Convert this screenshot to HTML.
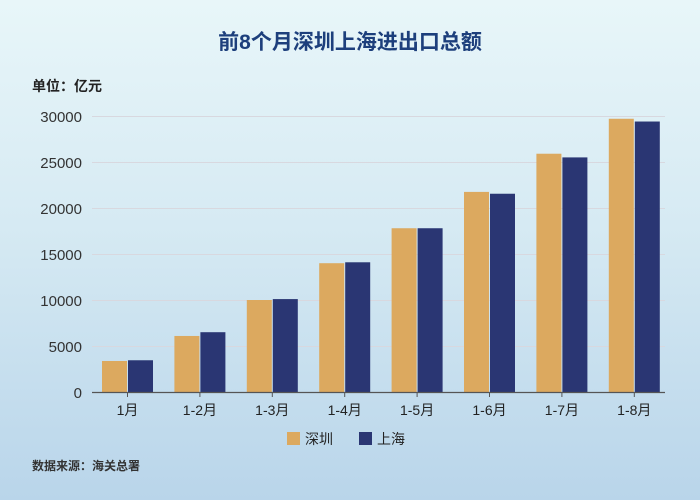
<!DOCTYPE html><html><head><meta charset="utf-8"><style>
body{margin:0}
#c{width:700px;height:500px;position:relative;overflow:hidden;background:linear-gradient(180deg,#e8f6f9 0%,#d6eaf3 45%,#b9d5ea 100%);font-family:"Liberation Sans","Noto Sans CJK SC",sans-serif}
</style></head><body><div id="c">
<svg width="700" height="500" xmlns="http://www.w3.org/2000/svg" style="position:absolute;left:0;top:0">
<text x="350" y="49" text-anchor="middle" font-size="21" font-weight="bold" fill="#1d3f7c" font-family="Liberation Sans,Noto Sans CJK SC,sans-serif">前8个月深圳上海进出口总额</text>
<text x="32" y="91" font-size="14" font-weight="bold" fill="#222" font-family="Liberation Sans,Noto Sans CJK SC,sans-serif">单位：亿元</text>
<g stroke="#d8d8df" stroke-width="1">
<line x1="92" x2="665" y1="116.5" y2="116.5"/><line x1="92" x2="665" y1="162.5" y2="162.5"/><line x1="92" x2="665" y1="208.5" y2="208.5"/><line x1="92" x2="665" y1="254.5" y2="254.5"/><line x1="92" x2="665" y1="300.5" y2="300.5"/><line x1="92" x2="665" y1="346.5" y2="346.5"/>
</g>
<g font-size="15" fill="#333" text-anchor="end" font-family="Liberation Sans,sans-serif">
<text x="82" y="122">30000</text><text x="82" y="168">25000</text><text x="82" y="214">20000</text><text x="82" y="260">15000</text><text x="82" y="306">10000</text><text x="82" y="352">5000</text><text x="82" y="398">0</text>
</g>
<g id="bars"></g>
<line x1="92" x2="665" y1="392.5" y2="392.5" stroke="#555" stroke-width="1.2"/>
<g id="ticks" stroke="#555"></g>
<g id="lab" font-size="14" fill="#222" text-anchor="middle" font-family="Liberation Sans,Noto Sans CJK SC,sans-serif"></g>
<rect x="287" y="432" width="13" height="13" fill="#dca95f"/>
<text x="305" y="444" font-size="14" fill="#222" font-family="Liberation Sans,Noto Sans CJK SC,sans-serif">深圳</text>
<rect x="359" y="432" width="13" height="13" fill="#2a3673"/>
<text x="377" y="444" font-size="14" fill="#222" font-family="Liberation Sans,Noto Sans CJK SC,sans-serif">上海</text>
<text x="32" y="470" font-size="12" font-weight="bold" fill="#333" font-family="Liberation Sans,Noto Sans CJK SC,sans-serif">数据来源：海关总署</text>
</svg>
<script>
var a=[3370,6090,10000,14000,17800,21750,25900,29700],b=[3450,6500,10100,14100,17800,21550,25500,29400],n=["1月","1-2月","1-3月","1-4月","1-5月","1-6月","1-7月","1-8月"];
var s="",t="",l="";
for(var i=0;i<8;i++){var c=127.5+i*72.4;var ha=a[i]*46/5000,hb=b[i]*46/5000;
s+='<rect x="'+(c-25.5)+'" y="'+(392-ha)+'" width="25" height="'+ha+'" fill="#dca95f"/>';
s+='<rect x="'+(c+0.5)+'" y="'+(392-hb)+'" width="25" height="'+hb+'" fill="#2a3673"/>';
t+='<line x1="'+c+'" x2="'+c+'" y1="392" y2="397"/>';
l+='<text x="'+c+'" y="415">'+n[i]+'</text>';}
document.getElementById("bars").innerHTML=s;document.getElementById("ticks").innerHTML=t;document.getElementById("lab").innerHTML=l;
</script>
</div></body></html>
